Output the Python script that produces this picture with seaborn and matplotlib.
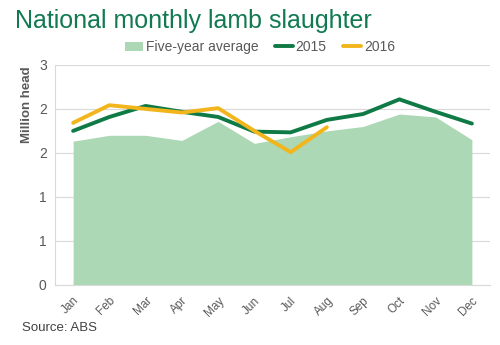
import matplotlib
matplotlib.use("Agg")
import matplotlib.pyplot as plt
import seaborn as sns
import pandas as pd
import numpy as np
from matplotlib.patches import Patch
from matplotlib.lines import Line2D
from matplotlib.transforms import ScaledTranslation

months = ["Jan", "Feb", "Mar", "Apr", "May", "Jun", "Jul", "Aug", "Sep", "Oct", "Nov", "Dec"]
avg5 = [1.96, 2.04, 2.04, 1.97, 2.23, 1.93, 2.02, 2.10, 2.16, 2.33, 2.29, 1.98]
y2015 = [2.10, 2.29, 2.44, 2.36, 2.29, 2.09, 2.08, 2.25, 2.33, 2.53, 2.36, 2.20]
y2016 = [2.21, 2.45, 2.40, 2.35, 2.41, 2.10, 1.81, 2.15]
yticks = [0, 0.6, 1.2, 1.8, 2.4, 3.0]
ytick_labels = ["0", "1", "1", "2", "2", "3"]

sns.set_style("white")
plt.rcParams["font.family"] = ["Liberation Sans", "DejaVu Sans"]

c_avg = "#acd8b5"
c15 = "#0f7a45"
c16 = "#f2b61c"
grid_c = "#d9d9d9"
txt_c = "#595959"

fig = plt.figure(figsize=(5, 3.45), dpi=100)
ax = fig.add_axes([0.11, 0.174, 0.87, 0.638])

x = np.arange(len(months))
ax.fill_between(x, avg5, 0, color=c_avg, linewidth=0, zorder=1)

df15 = pd.DataFrame({"x": x, "v": y2015})
df16 = pd.DataFrame({"x": x[:len(y2016)], "v": y2016})
sns.lineplot(data=df15, x="x", y="v", ax=ax, color=c15, linewidth=2.8, zorder=3)
sns.lineplot(data=df16, x="x", y="v", ax=ax, color=c16, linewidth=2.8, zorder=4)

ax.set_xlim(-0.5, 11.5)
ax.set_ylim(0, 3.0)
ax.set_yticks(yticks)
ax.set_yticklabels(ytick_labels, fontsize=10, color=txt_c)
ax.set_xticks(x)
ax.set_xticklabels(months, rotation=45, fontsize=8.5, color=txt_c, ha="right",
                   rotation_mode="anchor")
off = ScaledTranslation(6 / 72, 0, fig.dpi_scale_trans)
for lab in ax.get_xticklabels():
    lab.set_transform(lab.get_transform() + off)
ax.tick_params(axis="x", length=0, pad=7)
ax.tick_params(axis="y", length=0, pad=6)
ax.set_xlabel("")
ax.set_ylabel("Million head", fontsize=9.5, color=txt_c, fontweight="bold")
ax.yaxis.set_label_coords(-0.05, 0.82)
ax.yaxis.grid(True, color=grid_c, linewidth=0.8, zorder=0)
ax.set_axisbelow(True)
for s in ["top", "right"]:
    ax.spines[s].set_visible(False)
for s in ["left", "bottom"]:
    ax.spines[s].set_color(grid_c)
    ax.spines[s].set_linewidth(0.8)

handles = [Patch(facecolor=c_avg, edgecolor="none", label="Five-year average"),
           Line2D([0], [0], color=c15, lw=2.8, label="2015"),
           Line2D([0], [0], color=c16, lw=2.8, label="2016")]
fig.legend(handles=handles, loc="center", bbox_to_anchor=(0.52, 0.863), ncol=3,
           frameon=False, fontsize=10, handlelength=1.3, handletextpad=0.2,
           columnspacing=1.2, labelcolor=txt_c)

fig.text(0.03, 0.94, "National monthly lamb slaughter", fontsize=18, color="#127a52",
         ha="left", va="center")
fig.text(0.044, 0.05, "Source: ABS", fontsize=9.5, color="#404040", ha="left", va="center")

fig.savefig("out.png", dpi=100)
